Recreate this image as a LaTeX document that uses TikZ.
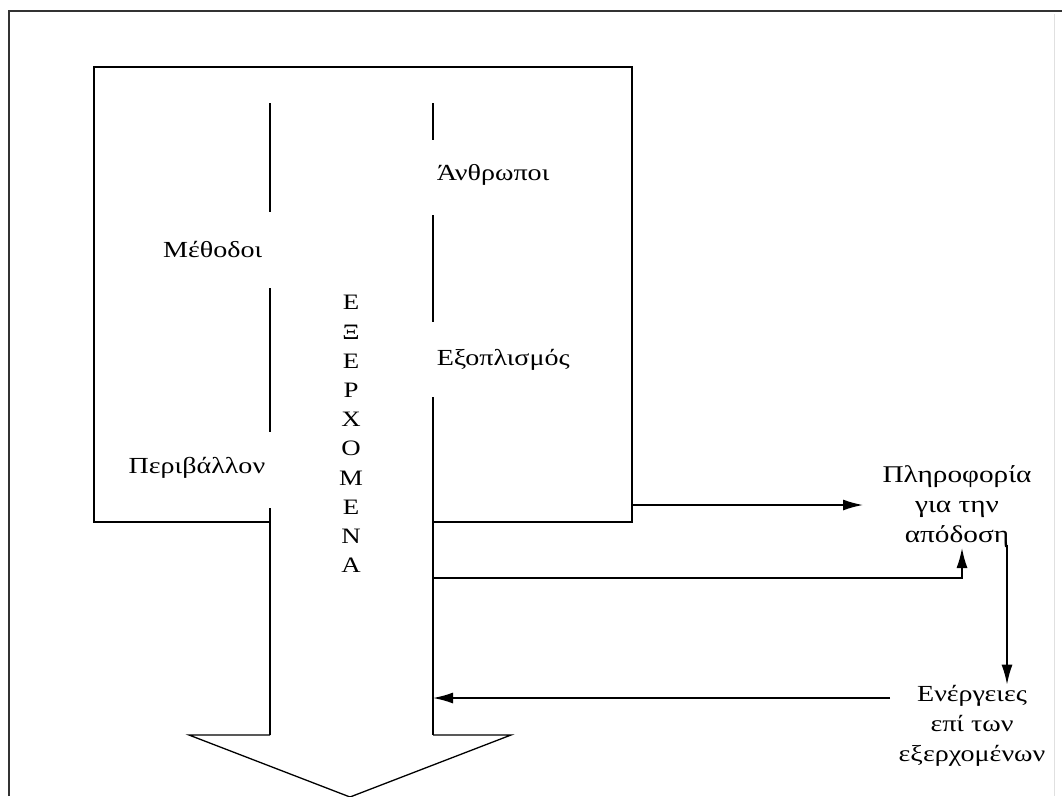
\documentclass[tikz,border=0pt]{standalone}
\usepackage{fontspec}
\setmainfont{Liberation Serif}[FakeStretch=1.22]
\usetikzlibrary{arrows.meta}
\begin{document}
\begin{tikzpicture}[x=1pt,y=-1pt, line width=1.6pt,
  lbl/.style={inner sep=0pt, font=\fontsize{23}{30}\selectfont, text=black},
  blk/.style={lbl, align=center},
  conn/.style={-{Latex[length=20pt,width=11pt]}},
  frameline/.style={line width=2.2pt, draw=black!80}]
\useasboundingbox (0,0) rectangle (1062,796);
% outer frame
\draw[frameline] (9,796) -- (9,11) -- (1062,11);
\draw[line width=1pt, black!12] (1054,14) -- (1054,796);
% inner box (open between the shaft lines)
\draw (270,522) -- (94,522) -- (94,67) -- (632,67) -- (632,522) -- (433,522);
% labels
\node[lbl, anchor=mid east] (meth) at (263,255) {Μέθοδοι};
\node[lbl, anchor=mid east] (env) at (266,471) {Περιβάλλον};
\node[lbl, anchor=mid west] (people) at (436,178) {Άνθρωποι};
\node[lbl, anchor=mid west] (equip) at (436,363) {Εξοπλισμός};
\node[blk, font=\fontsize{22}{29.2}\selectfont] (out) at (351,434) {Ε\\Ξ\\Ε\\Ρ\\Χ\\Ο\\Μ\\Ε\\Ν\\Α};
\node[blk, font=\fontsize{24}{30}\selectfont] (info) at (957,507) {Πληροφορία\\για την\\απόδοση};
\node[blk] (act) at (972,726) {Ενέργειες\\επί των\\εξερχομένων};
% shaft lines with gaps for labels
\draw (270,103) -- (270,212);
\draw (270,288) -- (270,432);
\draw (270,508) -- (270,735);
\draw (433,103) -- (433,140);
\draw (433,215) -- (433,322);
\draw (433,397) -- (433,735);
% arrow head of the big arrow
\draw[line width=1.3pt] (270,735) -- (189,735) -- (350,797) -- (511,735) -- (433,735);
% connectors
\coordinate (boxR) at (632,505);
\coordinate (shaftA) at (433,578);
\coordinate (shaftB) at (433,698);
\coordinate (actL) at (890,698);
\draw[conn] (boxR) -- (863,505);
\draw[conn] (shaftA) -| (962,548);
\draw[conn] (1007,545) -- (act.north -| 1007,0);
\draw[conn] (actL) -- (shaftB);
\end{tikzpicture}
\end{document}
